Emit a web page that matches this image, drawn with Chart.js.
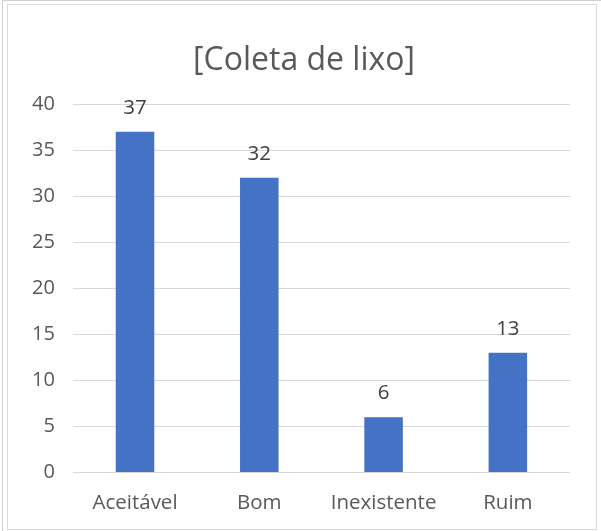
<!DOCTYPE html>
<html>
<head>
<meta charset="utf-8">
<script src="https://cdn.jsdelivr.net/npm/chart.js@4"></script>
<style>
  html, body { margin: 0; padding: 0; background: #fff; }
  body { width: 601px; height: 531px; position: relative; overflow: hidden; }
  .outer { position: absolute; left: 2px; top: 0px; width: 601px; height: 531px; border-left: 1px solid #d0d0d0; border-top: 1px solid #d0d0d0; }
  .frame { position: absolute; left: 7px; top: 4px; width: 588px; height: 524px; border: 1px solid #d9d9d9; background: #fff; }
  canvas { display: block; }
</style>
</head>
<body>
<div class="outer"></div>
<div class="frame"><canvas id="chart" width="588" height="524"></canvas></div>
<script>
const categories = ["Aceitável", "Bom", "Inexistente", "Ruim"];
const values = [37, 32, 6, 13];
const titleText = "[Coleta de lixo]";

const FONT = "'Open Sans', sans-serif";

// chart title, drawn a little right of centre like the original
const titlePlugin = {
  id: "titlePlugin",
  afterDraw(chart) {
    const ctx = chart.ctx;
    ctx.save();
    ctx.font = "32px " + FONT;
    ctx.fillStyle = "#595959";
    ctx.textAlign = "center";
    ctx.textBaseline = "alphabetic";
    ctx.fillText(titleText, chart.width / 2 + 2, 65);
    ctx.restore();
  }
};

// value labels above each bar
const barLabels = {
  id: "barLabels",
  afterDatasetsDraw(chart) {
    const ctx = chart.ctx;
    const meta = chart.getDatasetMeta(0);
    ctx.save();
    ctx.font = "20.5px " + FONT;
    ctx.fillStyle = "#404040";
    ctx.textAlign = "center";
    ctx.textBaseline = "alphabetic";
    meta.data.forEach((bar, i) => {
      ctx.fillText(values[i], bar.x, bar.y - 18);
    });
    ctx.restore();
  }
};

new Chart(document.getElementById("chart"), {
  type: "bar",
  data: {
    labels: categories,
    datasets: [{
      data: values,
      backgroundColor: "#4472C4",
      barPercentage: 1,
      categoryPercentage: 0.31
    }]
  },
  options: {
    responsive: false,
    animation: false,
    layout: { padding: { left: 6, right: 26, top: 99, bottom: 4 } },
    plugins: {
      legend: { display: false },
      tooltip: { enabled: false },
      title: { display: false }
    },
    scales: {
      x: {
        grid: { display: false },
        border: { display: false },
        ticks: { color: "#595959", font: { family: FONT, size: 20.5 }, padding: 10 }
      },
      y: {
        min: 0,
        max: 40,
        ticks: { stepSize: 5, color: "#595959", font: { family: FONT, size: 20 }, padding: 18 },
        grid: { color: "#d9d9d9", lineWidth: 1, drawTicks: false },
        border: { display: false }
      }
    }
  },
  plugins: [barLabels, titlePlugin]
});
</script>
</body>
</html>
